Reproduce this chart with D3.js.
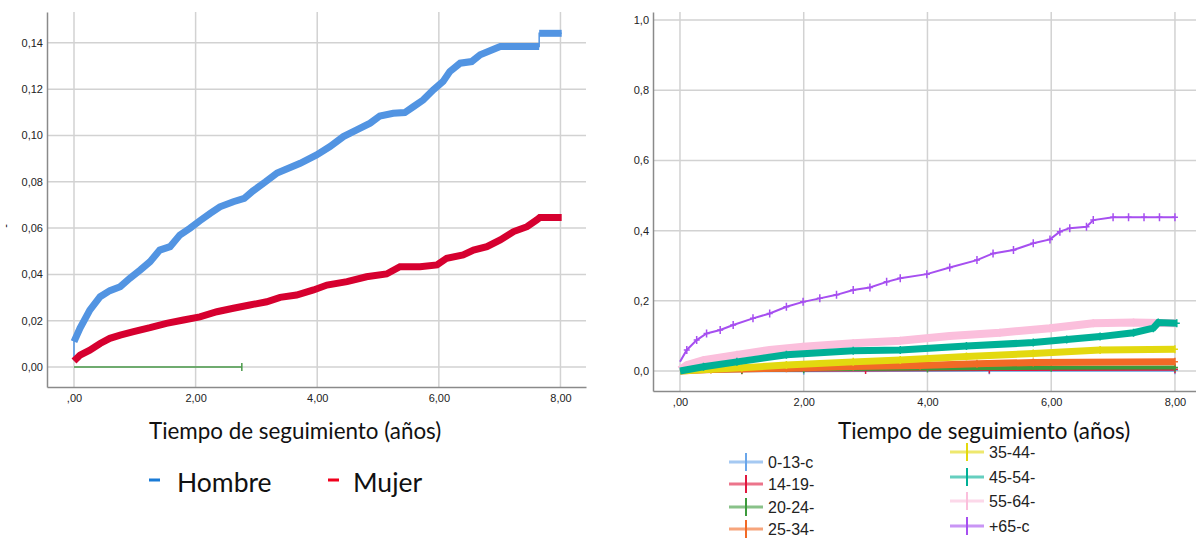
<!DOCTYPE html>
<html>
<head>
<meta charset="utf-8">
<script src="https://cdn.jsdelivr.net/npm/d3@7"></script>
<style>
  body { margin: 0; background: #fff; }
  svg { display: block; }
  .tick text { font-family: "Liberation Sans", Arial, sans-serif; font-size: 11px; fill: #222; }
  .title { font-family: Lato, "Open Sans", sans-serif; fill: #111; }
  .leg { font-family: "Liberation Sans", Arial, sans-serif; font-size: 16px; fill: #222; }
</style>
</head>
<body>
<div id="chart"></div>
<script>
// left panel: sexo
const hombreT = [0, 0, 0.1, 0.26, 0.43, 0.59, 0.76, 0.92, 1.09, 1.25, 1.41, 1.58, 1.74, 1.91, 2.07, 2.24, 2.40, 2.62, 2.80, 2.94, 3.15, 3.34, 3.72, 3.99, 4.21, 4.43, 4.65, 4.87, 5.03, 5.25, 5.44, 5.58, 5.74, 5.91, 6.07, 6.18, 6.35, 6.54, 6.68, 6.90, 7.01, 7.65, 7.65, 8.02];
const hombreV = [0.003, 0.011, 0.0168, 0.0246, 0.0304, 0.033, 0.0347, 0.0384, 0.0419, 0.0455, 0.0505, 0.052, 0.057, 0.060, 0.0632, 0.0664, 0.0692, 0.0714, 0.0728, 0.076, 0.080, 0.0838, 0.088, 0.0916, 0.0952, 0.0995, 0.1024, 0.1053, 0.1084, 0.1096, 0.1099, 0.1124, 0.1153, 0.1197, 0.1233, 0.1276, 0.1312, 0.1319, 0.1348, 0.1372, 0.1384, 0.1384, 0.1441, 0.1441];
const mujerT = [0, 0.1, 0.26, 0.43, 0.59, 0.76, 0.98, 1.25, 1.52, 1.80, 2.07, 2.35, 2.62, 2.89, 3.17, 3.39, 3.66, 3.94, 4.16, 4.49, 4.81, 5.14, 5.36, 5.69, 5.97, 6.13, 6.40, 6.57, 6.79, 7.01, 7.23, 7.45, 7.61, 7.66, 8.02];
const mujerV = [0.0026, 0.0052, 0.0073, 0.0102, 0.0124, 0.0138, 0.0153, 0.017, 0.0189, 0.0203, 0.0217, 0.0239, 0.0254, 0.0268, 0.0282, 0.0301, 0.0311, 0.0333, 0.0354, 0.0369, 0.039, 0.0402, 0.0433, 0.0433, 0.0441, 0.047, 0.0484, 0.0505, 0.052, 0.0549, 0.0585, 0.0606, 0.0635, 0.0646, 0.0646];
const otroT = [0, 2.76];
const otroV = [0, 0];

const leftYTicks = [0, 0.02, 0.04, 0.06, 0.08, 0.10, 0.12, 0.14];
const xTicks = [0, 2, 4, 6, 8];
const rightYTicks = [0, 0.2, 0.4, 0.6, 0.8, 1.0];

// right panel: grupos de edad
const edadLabels = ['0-13-c', '14-19-', '20-24-', '25-34-', '35-44-', '45-54-', '55-64-', '+65-c'];
const edadColors = ['#6aa6ea', '#e0193f', '#3c9a3c', '#f26a26', '#e3d90f', '#00b096', '#fbbfdc', '#a64ff0'];
const edadT = [
  [0, 2, 5, 8],
  [0, 1, 3, 5, 8],
  [0, 1, 2, 4, 6, 8],
  [0, 0.5, 1, 1.72, 2.8, 3.88, 4.8, 5.71, 8],
  [0, 0.5, 1.0, 1.72, 2.8, 3.56, 4.63, 5.71, 6.79, 8],
  [0, 0.38, 0.92, 1.72, 2.8, 3.56, 4.63, 5.71, 6.25, 6.79, 7.33, 7.65, 7.73, 8.03],
  [0, 0.11, 0.38, 0.92, 1.45, 1.99, 2.8, 3.56, 4.36, 5.17, 5.98, 6.68, 7.33, 8.0],
  [0, 0.11, 0.27, 0.43, 0.65, 0.86, 1.18, 1.45, 1.72, 1.99, 2.26, 2.53, 2.80, 3.07, 3.34, 3.56, 3.99, 4.36, 4.80, 5.06, 5.39, 5.71, 5.98, 6.14, 6.30, 6.57, 6.68, 7.00, 7.25, 7.5, 7.75, 8.00]
];
const edadV = [
  [0, 0.001, 0.002, 0.002],
  [0, 0.002, 0.003, 0.004, 0.005],
  [0, 0.003, 0.005, 0.007, 0.009, 0.010],
  [0, 0.004, 0.006, 0.008, 0.013, 0.016, 0.021, 0.024, 0.026],
  [0, 0.005, 0.009, 0.017, 0.026, 0.031, 0.041, 0.050, 0.060, 0.062],
  [0, 0.012, 0.026, 0.046, 0.058, 0.060, 0.071, 0.081, 0.090, 0.098, 0.109, 0.122, 0.138, 0.136],
  [0.003, 0.017, 0.031, 0.046, 0.060, 0.069, 0.079, 0.086, 0.100, 0.109, 0.122, 0.136, 0.138, 0.136],
  [0.0266, 0.06, 0.088, 0.107, 0.117, 0.131, 0.150, 0.164, 0.183, 0.197, 0.207, 0.217, 0.231, 0.238, 0.254, 0.264, 0.276, 0.295, 0.316, 0.335, 0.345, 0.364, 0.375, 0.397, 0.407, 0.411, 0.430, 0.438, 0.438, 0.438, 0.438, 0.438]
];
const edadWidth = [3, 3, 4, 7, 7, 7, 8, 2];
const edadDraw = [0, 1, 2, 3, 4, 6, 5, 7];

const width = 1196, height = 540;
const svg = d3.select('#chart').append('svg')
  .attr('width', width)
  .attr('height', height);

const fmtX = v => v === 0 ? ',00' : d3.format('.2f')(v).replace('.', ',');

function frame(x, y, yTicks, yFmt, labelGap) {
  const g = svg.append('g');
  const [x0, x1] = x.range();
  const [y1, y0] = y.range();

  // grid
  g.append('g').selectAll('line').data(yTicks).join('line')
    .attr('x1', x0).attr('x2', x1)
    .attr('y1', d => y(d)).attr('y2', d => y(d))
    .attr('stroke', '#d2d2d2').attr('stroke-width', 1.5);
  g.append('g').selectAll('line').data(xTicks).join('line')
    .attr('x1', d => x(d)).attr('x2', d => x(d))
    .attr('y1', y0).attr('y2', y1)
    .attr('stroke', '#d2d2d2').attr('stroke-width', 1.5);

  const ax = g.append('g')
    .attr('transform', `translate(0,${y1})`)
    .call(d3.axisBottom(x).tickValues(xTicks).tickFormat(fmtX).tickSize(0).tickPadding(labelGap));
  ax.select('.domain').attr('stroke', '#8a8a8a').attr('stroke-width', 1.5);

  const ay = g.append('g')
    .attr('transform', `translate(${x0},0)`)
    .call(d3.axisLeft(y).tickValues(yTicks).tickFormat(yFmt).tickSize(0).tickPadding(4));
  ay.select('.domain').attr('stroke', '#8a8a8a').attr('stroke-width', 1.5);
  return g;
}

// ---- left panel
const xL = d3.scaleLinear().domain([-0.444, 8.42]).range([47, 586]);
const yL = d3.scaleLinear().domain([-0.0086, 0.1533]).range([387, 12]);
frame(xL, yL, leftYTicks, d => d3.format('.2f')(d).replace('.', ','), 7);

const lineL = d3.line().x(d => xL(d[0])).y(d => yL(d[1]));
const hombre = hombreT.map((t, i) => [t, hombreV[i]]);
const mujer = mujerT.map((t, i) => [t, mujerV[i]]);
const otro = otroT.map((t, i) => [t, otroV[i]]);

svg.append('path').attr('d', lineL(otro)).attr('fill', 'none')
  .attr('stroke', '#4a9a4a').attr('stroke-width', 1.5);
svg.append('line')
  .attr('x1', xL(otroT[1])).attr('x2', xL(otroT[1]))
  .attr('y1', yL(0) - 4).attr('y2', yL(0) + 4)
  .attr('stroke', '#4a9a4a').attr('stroke-width', 1.5);

// thin line carries the vertical jumps, thick band the censored stretches
svg.append('path').attr('d', lineL(hombre)).attr('fill', 'none')
  .attr('stroke', '#5294e2').attr('stroke-width', 1.5);
svg.append('path').attr('d', lineL(hombre.slice(1, -2))).attr('fill', 'none')
  .attr('stroke', '#5294e2').attr('stroke-width', 7);
svg.append('path').attr('d', lineL(hombre.slice(-2))).attr('fill', 'none')
  .attr('stroke', '#5294e2').attr('stroke-width', 7);
svg.append('path').attr('d', lineL(mujer)).attr('fill', 'none')
  .attr('stroke', '#d6002f').attr('stroke-width', 7);

svg.append('text')
  .attr('x', 9).attr('y', 226).attr('transform', 'rotate(-90,9,226)')
  .attr('text-anchor', 'middle')
  .style('font-family', 'Liberation Sans, Arial, sans-serif').style('font-size', '11px')
  .text('-');

svg.append('text').attr('class', 'title')
  .attr('x', 149).attr('y', 439).style('font-size', '22.4px')
  .text('Tiempo de seguimiento (años)');

const legL = [['Hombre', '#1a7bd6', 149, 177], ['Mujer', '#f0001c', 328, 353]];
legL.forEach(([name, col, lx, tx]) => {
  svg.append('rect').attr('x', lx).attr('y', 478.5).attr('width', 11).attr('height', 3).attr('fill', col);
  svg.append('text').attr('class', 'title').attr('x', tx).attr('y', 492)
    .style('font-size', '26.5px').text(name);
});

// ---- right panel
const xR = d3.scaleLinear().domain([-0.436, 8.4]).range([653, 1199.7]);
const yR = d3.scaleLinear().domain([-0.057, 1.023]).range([391, 12]);
frame(xR, yR, rightYTicks, d => d3.format('.1f')(d).replace('.', ','), 7);

const lineR = d3.line().x(d => xR(d[0])).y(d => yR(d[1]));
edadDraw.forEach(i => {
  const pts = edadT[i].map((t, j) => [t, edadV[i][j]]);
  svg.append('path').attr('d', lineR(pts)).attr('fill', 'none')
    .attr('stroke', edadColors[i]).attr('stroke-width', edadWidth[i]);
  // censoring marks
  const m = svg.append('g').attr('stroke', edadColors[i]).attr('stroke-width', 1.5);
  m.selectAll('path').data(pts.slice(1)).join('path')
    .attr('d', d => `M${xR(d[0])},${yR(d[1]) - 4}V${yR(d[1]) + 4}M${xR(d[0]) - 3},${yR(d[1])}H${xR(d[0]) + 3}`);
});

svg.append('text').attr('class', 'title')
  .attr('x', 838).attr('y', 439).style('font-size', '22.4px')
  .text('Tiempo de seguimiento (años)');

// legend
const clipDefs = svg.append('defs');
clipDefs.append('clipPath').attr('id', 'c1').append('rect').attr('x', 700).attr('y', 440).attr('width', 120).attr('height', 100);
clipDefs.append('clipPath').attr('id', 'c2').append('rect').attr('x', 930).attr('y', 430).attr('width', 111).attr('height', 110);
const legRows = [462, 484, 507, 529, 452, 477, 501, 526];
edadLabels.forEach((name, i) => {
  const col = i < 4 ? 0 : 1;
  const sx = col === 0 ? 729 : 950;
  const y = legRows[i];
  const g = svg.append('g').attr('clip-path', `url(#c${col + 1})`);
  g.append('line').attr('x1', sx).attr('x2', sx + 34).attr('y1', y).attr('y2', y)
    .attr('stroke', edadColors[i]).attr('stroke-width', 3).attr('opacity', 0.6);
  g.append('line').attr('x1', sx + 17).attr('x2', sx + 17).attr('y1', y - 9).attr('y2', y + 9)
    .attr('stroke', edadColors[i]).attr('stroke-width', 2);
  g.append('text').attr('class', 'leg').attr('x', sx + 39).attr('y', y + 6).text(name);
});
</script>
</body>
</html>
